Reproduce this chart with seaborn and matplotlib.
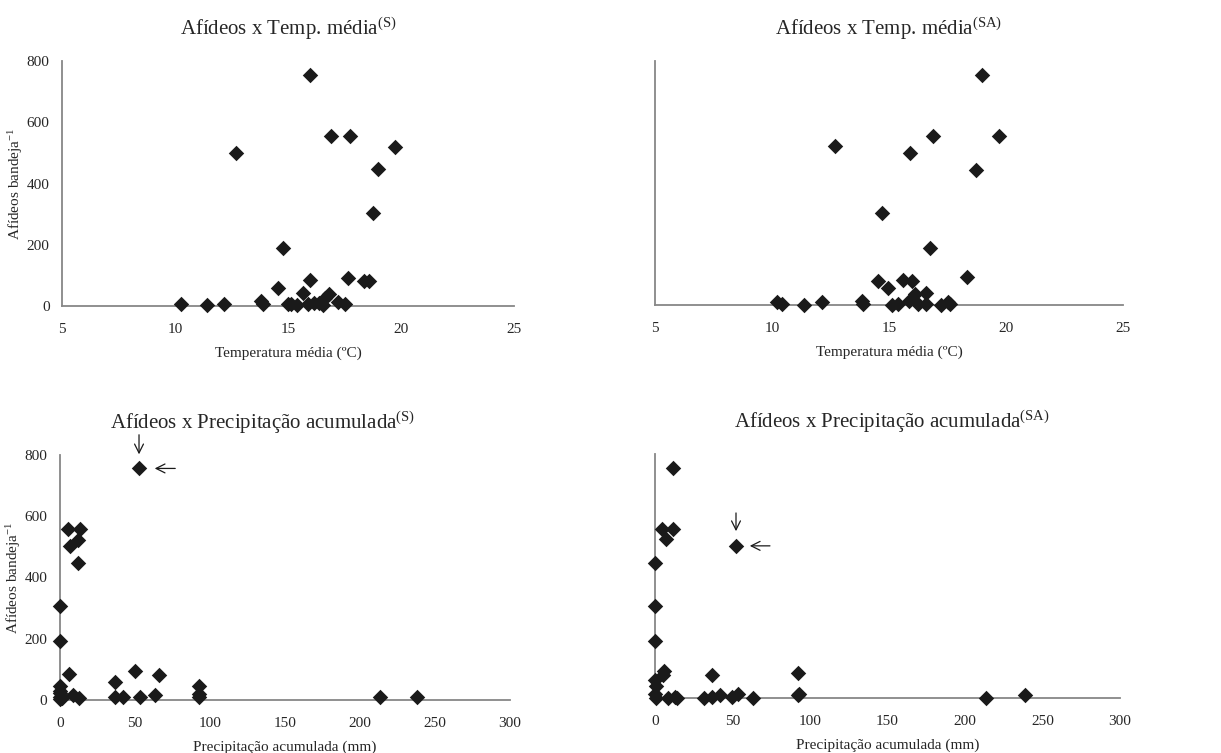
import matplotlib
matplotlib.use('Agg')
import matplotlib.pyplot as plt
import seaborn as sns
import pandas as pd

# Data
# Afídeos x Temp. média (S)
temp_s = [10.25, 11.4, 12.15, 12.7, 13.8, 13.9, 14.55, 14.78, 15.0, 15.13,
          15.4, 15.65, 15.96, 15.99, 15.9, 16.15, 16.35, 16.55, 16.65, 16.8,
          16.9, 17.2, 17.5, 17.65, 17.72, 18.35, 18.6, 18.75, 18.98, 19.72]
afid_temp_s = [8, 3, 8, 500, 18, 6, 60, 191, 8, 8,
               3, 44, 754, 86, 8, 10, 10, 3, 26, 40,
               555, 13, 8, 93, 555, 81, 81, 305, 446, 520]

# Afídeos x Temp. média (SA)
temp_sa = [10.22, 10.42, 11.38, 12.12, 12.69, 13.83, 13.87, 14.54, 14.72, 14.96,
           15.13, 15.39, 15.6, 15.9, 15.86, 16.0, 16.1, 16.25, 16.57, 16.6,
           16.77, 16.89, 17.24, 17.53, 17.6, 18.34, 18.71, 18.99, 19.69]
afid_temp_sa = [9, 3, 0, 9, 520, 14, 3, 78, 302, 56,
                0, 3, 82, 499, 14, 77, 36, 3, 38, 3,
                187, 553, 0, 9, 3, 91, 444, 754, 554]

# Afídeos x Precipitação acumulada (S)
prec_s = [52.7, 5.3, 13.1, 6.4, 12.0, 12.0, 0, 0, 6.0, 0,
          0, 0, 1, 8.7, 13, 37, 36.5, 42, 49.8, 53.6,
          63.6, 66, 92.5, 92.5, 92.5, 213.3, 238.2, 0, 0, 1.5]
afid_prec_s = [756, 558, 558, 503, 522, 446, 307, 194, 85, 46,
               22, 11, 5, 16, 5, 60, 11, 11, 96, 11,
               16, 82, 46, 20, 11, 11, 11, 30, 2, 8]

# Afídeos x Precipitação acumulada (SA)
prec_sa = [11.8, 4.3, 11.8, 7.1, 52.3, 0, 0, 0, 6.0, 5.4,
           0, 1, 0, 1, 8.6, 12.9, 14, 31.6, 37, 37,
           42, 49.5, 53.3, 63.5, 92, 92, 93, 213.6, 238.8]
afid_prec_sa = [754, 553, 553, 521, 499, 444, 301, 187, 88, 75,
                58, 38, 14, 0, 0, 5, 0, 0, 5, 77,
                9, 5, 14, 0, 82, 9, 14, 0, 9]

sns.set_style('white')
plt.rcParams['font.family'] = ['Liberation Serif', 'DejaVu Serif']
plt.rcParams['mathtext.fontset'] = 'custom'
plt.rcParams['mathtext.rm'] = 'Liberation Serif'
plt.rcParams['mathtext.it'] = 'Liberation Serif:italic'

AXIS_GRAY = '#878787'
TXT = '#262626'
MARK = '#1a1a1a'

fig = plt.figure(figsize=(12.21, 7.53), dpi=100)

# axes positions in figure fractions (left, bottom, width, height)
ax_tl = fig.add_axes([0.0508, 0.5936, 0.3702, 0.3254])
ax_tr = fig.add_axes([0.5364, 0.5950, 0.3833, 0.3240])
ax_bl = fig.add_axes([0.0491, 0.0704, 0.3686, 0.3254])
ax_br = fig.add_axes([0.5364, 0.0730, 0.3808, 0.3240])

panels = [
    (ax_tl, temp_s, afid_temp_s, r'Afídeos x Temp. média$^{\mathrm{(S)}}$', 0.5,
     'Temperatura média (ºC)', (5, 25), range(5, 26, 5), True),
    (ax_tr, temp_sa, afid_temp_sa, r'Afídeos x Temp. média$^{\mathrm{(SA)}}$', 0.5,
     'Temperatura média (ºC)', (5, 25), range(5, 26, 5), False),
    (ax_bl, prec_s, afid_prec_s, r'Afídeos x Precipitação acumulada$^{\mathrm{(S)}}$', 0.45,
     'Precipitação acumulada (mm)', (0, 300), range(0, 301, 50), True),
    (ax_br, prec_sa, afid_prec_sa, r'Afídeos x Precipitação acumulada$^{\mathrm{(SA)}}$', 0.51,
     'Precipitação acumulada (mm)', (0, 300), range(0, 301, 50), False),
]

for ax, xs, ys, title, tx, xlabel, xlim, xticks, show_y in panels:
    d = pd.DataFrame({'x': xs, 'y': ys})
    sns.scatterplot(data=d, x='x', y='y', marker='D', s=62, color=MARK,
                    linewidth=0, ax=ax, clip_on=False, zorder=3)
    ax.set_xlim(*xlim)
    ax.set_ylim(0, 800)
    ax.set_xticks(list(xticks))
    ax.set_yticks(range(0, 801, 200))
    for side in ['top', 'right']:
        ax.spines[side].set_visible(False)
    for side in ['left', 'bottom']:
        ax.spines[side].set_color(AXIS_GRAY)
        ax.spines[side].set_linewidth(1.3)
        ax.spines[side].set_zorder(1)
    ax.tick_params(axis='y', length=0, labelsize=11, colors=TXT, pad=9)
    ax.tick_params(axis='x', length=0, labelsize=11, colors=TXT, pad=12)
    ax.set_xlabel(xlabel, fontsize=11, color=TXT, labelpad=8)
    if show_y:
        ax.set_ylabel(r'Afídeos bandeja$^{\mathrm{-1}}$', fontsize=11, color=TXT, labelpad=1)
    else:
        ax.set_ylabel('')
        ax.set_yticklabels([])
    ax.set_title(title, fontsize=15, color=TXT, x=tx, pad=19)

# arrows marking the highlighted points
arrow = dict(arrowstyle='->', lw=0.9, color='#1a1a1a', mutation_scale=16)
ax_bl.annotate('', xy=(52.7, 793), xytext=(52.7, 875), arrowprops=arrow,
               annotation_clip=False)
ax_bl.annotate('', xy=(61.3, 756), xytext=(78.7, 756), arrowprops=arrow,
               annotation_clip=False)
ax_br.annotate('', xy=(52.3, 538), xytext=(52.3, 616), arrowprops=arrow,
               annotation_clip=False)
ax_br.annotate('', xy=(59.4, 499), xytext=(76.0, 499), arrowprops=arrow,
               annotation_clip=False)

fig.savefig('out.png', dpi=100)
